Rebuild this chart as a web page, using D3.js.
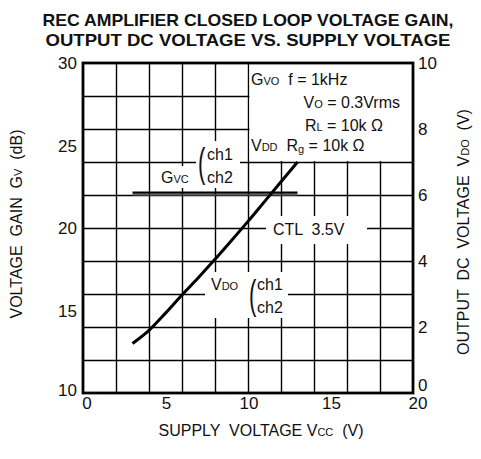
<!DOCTYPE html>
<html><head><meta charset="utf-8">
<script src="https://cdn.jsdelivr.net/npm/d3@7"></script>
<style>
body{margin:0;background:#fff;}
svg text{font-family:"Liberation Sans",Arial,Helvetica,sans-serif;fill:#111;white-space:pre;}
</style></head>
<body><svg id="c" width="481" height="459"></svg>
<script>
// ---- data ----
const titleLines = ["REC AMPLIFIER CLOSED LOOP VOLTAGE GAIN,", "OUTPUT DC VOLTAGE VS. SUPPLY VOLTAGE"];
const xTicks = [0, 5, 10, 15, 20];
const gainTicks = [10, 15, 20, 25, 30];
const vdoTicks = [0, 2, 4, 6, 8, 10];
const supplyV = [3, 4, 5, 6, 7, 8, 9, 10, 11, 12, 13];
const vdoValues = [1.5, 1.9, 2.42, 2.97, 3.5, 4.05, 4.62, 5.2, 5.8, 6.4, 7.0];
const gvcSupply = [3, 13];
const gvcCh1 = [22.15, 22.15];
const gvcCh2 = [22.0, 22.0];

const svg = d3.select("#c");
const L = 83, R = 413, T = 63, B = 393;
const x = d3.scaleLinear().domain([0, 20]).range([L, R]);
const yG = d3.scaleLinear().domain([10, 30]).range([B, T]);
const yV = d3.scaleLinear().domain([0, 10]).range([B, T]);
const px = v => Math.round(v) + 0.5;

// title
svg.selectAll("text.title").data(titleLines).enter().append("text")
  .attr("class", "title")
  .attr("x", 248).attr("y", (d, i) => 26 + i * 19.5)
  .attr("text-anchor", "middle")
  .attr("font-size", 17).attr("font-weight", "bold")
  .attr("textLength", (d, i) => i === 0 ? 411 : 405)
  .attr("lengthAdjust", "spacingAndGlyphs")
  .text(d => d);

// grid
const grid = svg.append("g").attr("stroke", "#000").attr("stroke-width", 1.4);
grid.selectAll("line.v").data(d3.range(2, 20, 2)).enter().append("line").attr("class", "v")
  .attr("x1", d => px(x(d))).attr("x2", d => px(x(d))).attr("y1", T).attr("y2", B);
grid.selectAll("line.h").data(d3.range(1, 10, 1)).enter().append("line").attr("class", "h")
  .attr("y1", d => px(yV(d))).attr("y2", d => px(yV(d))).attr("x1", L).attr("x2", R);

// white masks behind annotations
const masks = [
  [x(10) + 1.5, yV(10) + 1, x(20) - x(10) - 2.5, yV(7) - yV(10) - 2],
  [158, 166, 40, 22],
  [196, 141, 44, 47],
  [266, 216, 101, 28],
  [205, 272, 83, 46]
];
svg.append("g").selectAll("rect").data(masks).enter().append("rect")
  .attr("x", d => d[0]).attr("y", d => d[1]).attr("width", d => d[2]).attr("height", d => d[3])
  .attr("fill", "#fff");

// frame
svg.append("rect").attr("x", L).attr("y", T).attr("width", R - L).attr("height", B - T)
  .attr("fill", "none").attr("stroke", "#000").attr("stroke-width", 2.8);

// axes (labels only)
const fs = 17;
svg.append("g").selectAll("text").data(xTicks).enter().append("text")
  .attr("x", d => x(d) + (d === 0 ? 4 : d === 20 ? 5 : 1)).attr("y", 409)
  .attr("text-anchor", "middle").attr("font-size", fs).text(d => d);
svg.append("g").selectAll("text").data(gainTicks).enter().append("text")
  .attr("x", 77).attr("y", d => yG(d) + 6 - (d === 10 ? 3 : 0))
  .attr("text-anchor", "end").attr("font-size", fs).text(d => d);
svg.append("g").selectAll("text").data(vdoTicks).enter().append("text")
  .attr("x", 418).attr("y", d => yV(d) + 6 - (d === 0 ? 8 : 0))
  .attr("text-anchor", "start").attr("font-size", fs).text(d => d);

// axis titles
function rich(sel, parts) {
  parts.forEach(p => {
    const t = sel.append("tspan").text(p[0]);
    if (p[1]) t.attr("font-size", p[1]);
    if (p[2]) t.attr("dy", p[2]);
  });
  return sel;
}
rich(svg.append("text").attr("x", 261).attr("y", 436).attr("text-anchor", "middle").attr("font-size", 16),
  [["SUPPLY  VOLTAGE V"], ["CC", 11], ["  (V)", 16]]);
rich(svg.append("text").attr("transform", "translate(22,224) rotate(-90)").attr("text-anchor", "middle").attr("font-size", 16),
  [["VOLTAGE  GAIN  G"], ["V", 11], ["  (dB)", 16]]);
rich(svg.append("text").attr("transform", "translate(469,232) rotate(-90)").attr("text-anchor", "middle").attr("font-size", 16),
  [["OUTPUT  DC  VOLTAGE  V"], ["DO", 11], ["  (V)", 16]]);

// Gvc lines (ch1, ch2)
const lineG = d3.line().x(d => x(d[0])).y(d => yG(d[1]));
svg.append("path").datum(gvcSupply.map((s, i) => [s, gvcCh1[i]])).attr("d", lineG)
  .attr("stroke", "#000").attr("stroke-width", 2.2).attr("fill", "none");
svg.append("path").datum(gvcSupply.map((s, i) => [s, gvcCh2[i]])).attr("d", lineG)
  .attr("stroke", "#444").attr("stroke-width", 1.4).attr("fill", "none");

// VDO curve
const lineV = d3.line().x(d => x(d[0])).y(d => yV(d[1])).curve(d3.curveCatmullRom);
svg.append("path").datum(supplyV.map((s, i) => [s, vdoValues[i]])).attr("d", lineV)
  .attr("stroke", "#000").attr("stroke-width", 3).attr("fill", "none");

// annotations
const af = 16, sf = 11;
rich(svg.append("text").attr("x", 251).attr("y", 85).attr("font-size", af), [["G"], ["VO", sf], ["  f = 1kHz", af]]);
rich(svg.append("text").attr("x", 400).attr("y", 108).attr("text-anchor", "end").attr("font-size", af), [["V"], ["O", sf], [" = 0.3Vrms", af]]);
rich(svg.append("text").attr("x", 383).attr("y", 131).attr("text-anchor", "end").attr("font-size", af), [["R"], ["L", sf], [" = 10k Ω", af]]);
rich(svg.append("text").attr("x", 251).attr("y", 151).attr("font-size", af), [["V"], ["DD", sf], ["  R", af], ["g", sf, 2], [" = 10k Ω", af, -2]]);

rich(svg.append("text").attr("x", 161).attr("y", 183).attr("font-size", af), [["G"], ["VC", sf]]);
svg.append("text").attr("x", 198).attr("y", 177).attr("font-size", 40).attr("font-weight", "100")
  .attr("transform", "translate(198,177) scale(0.55,1) translate(-198,-177)").text("(");
svg.append("text").attr("x", 207).attr("y", 160).attr("font-size", af).text("ch1");
svg.append("text").attr("x", 207).attr("y", 183).attr("font-size", af).text("ch2");

svg.append("text").attr("x", 273).attr("y", 235).attr("font-size", af).text("CTL  3.5V");

rich(svg.append("text").attr("x", 211).attr("y", 290).attr("font-size", af), [["V"], ["DO", sf]]);
svg.append("text").attr("x", 249).attr("y", 309).attr("font-size", 40).attr("font-weight", "100")
  .attr("transform", "translate(249,309) scale(0.55,1) translate(-249,-309)").text("(");
svg.append("text").attr("x", 257).attr("y", 290).attr("font-size", af).text("ch1");
svg.append("text").attr("x", 257).attr("y", 313).attr("font-size", af).text("ch2");
</script></body></html>
